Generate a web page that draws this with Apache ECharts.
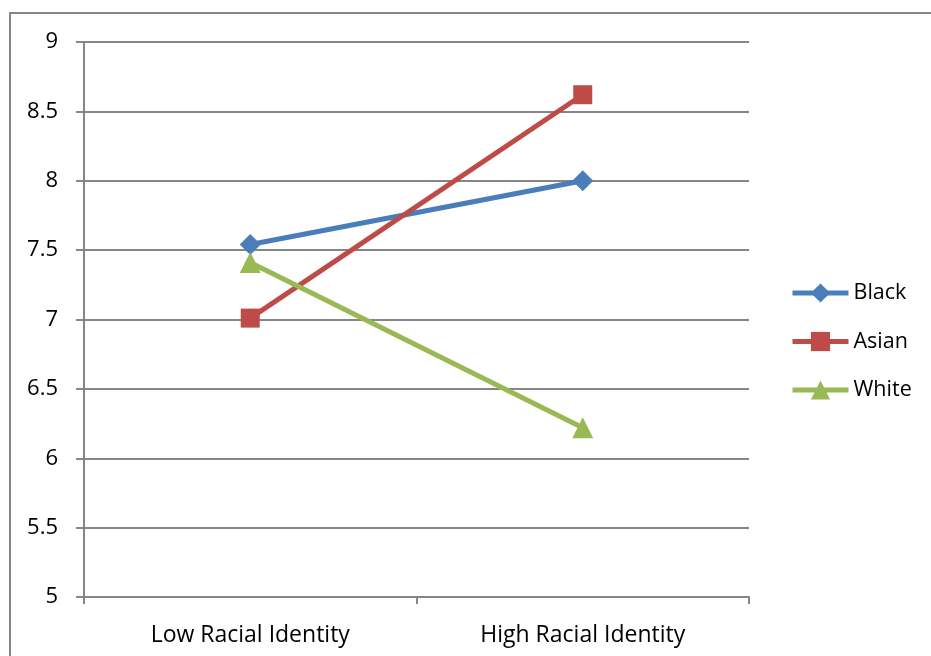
<!DOCTYPE html>
<html>
<head>
<meta charset="utf-8">
<style>
  html, body { margin: 0; padding: 0; background: #ffffff; }
  #chart { width: 931px; height: 656px; }
</style>
<script src="https://cdn.jsdelivr.net/npm/echarts@6/dist/echarts.min.js"></script>
</head>
<body>
<div id="chart"></div>
<script>
// Interaction plot: mean score by racial identity level for each group
const categories = ['Low Racial Identity', 'High Racial Identity'];
const blackValues = [7.54, 8.0];
const asianValues = [7.01, 8.62];
const whiteValues = [7.41, 6.22];
const yTicks = { min: 5, max: 9, step: 0.5 };

const FONT = '"Open Sans", Lato, sans-serif';
const GRID_GRAY = '#868686';

const chart = echarts.init(document.getElementById('chart'), null, { renderer: 'canvas' });

function lineSeries(name, data, symbol, size, color) {
  return {
    name: name,
    type: 'line',
    data: data,
    symbol: symbol,
    symbolSize: size,
    showAllSymbol: true,
    lineStyle: { width: 5, color: color },
    itemStyle: { color: color },
    emphasis: { disabled: true },
    animation: false
  };
}

chart.setOption({
  backgroundColor: '#ffffff',
  animation: false,
  graphic: [{
    type: 'rect',
    shape: { x: 10, y: 13, width: 940, height: 700 },
    style: { fill: 'none', stroke: GRID_GRAY, lineWidth: 2 },
    z: -1
  }],
  grid: { left: 84, right: 182, top: 42, bottom: 59, containLabel: false },
  legend: {
    orient: 'vertical',
    left: 790,
    top: 282,
    padding: 0,
    itemGap: 26.5,
    itemWidth: 56,
    itemHeight: 24,
    lineStyle: { width: 5 },
    textStyle: { fontFamily: FONT, fontSize: 21.5, color: '#000000' },
    data: ['Black', 'Asian', 'White']
  },
  xAxis: {
    type: 'category',
    data: categories,
    boundaryGap: true,
    axisLine: { show: true, lineStyle: { color: GRID_GRAY, width: 2 } },
    axisTick: { show: true, length: 7, lineStyle: { color: GRID_GRAY, width: 2 } },
    axisLabel: { fontFamily: FONT, fontSize: 23, color: '#000000', margin: 27 },
    splitLine: { show: false }
  },
  yAxis: {
    type: 'value',
    min: yTicks.min,
    max: yTicks.max,
    interval: yTicks.step,
    axisLine: { show: true, lineStyle: { color: GRID_GRAY, width: 2 } },
    axisTick: { show: true, length: 8, lineStyle: { color: GRID_GRAY, width: 2 } },
    axisLabel: { fontFamily: FONT, fontSize: 22, color: '#000000', margin: 26 },
    splitLine: { show: true, lineStyle: { color: GRID_GRAY, width: 2 } }
  },
  series: [
    lineSeries('Black', blackValues, 'diamond', 21, '#4A7EBB'),
    lineSeries('Asian', asianValues, 'rect', 19, '#BE4B48'),
    lineSeries('White', whiteValues, 'triangle', 21, '#98B954')
  ]
});
</script>
</body>
</html>
